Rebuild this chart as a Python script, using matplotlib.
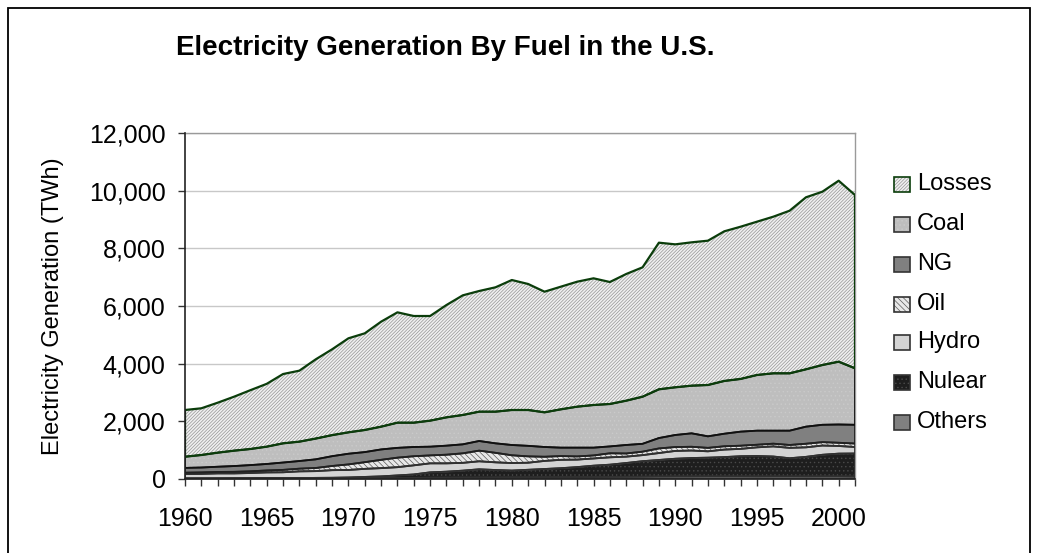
import matplotlib
matplotlib.use("Agg")
import matplotlib.pyplot as plt
from matplotlib.patches import Rectangle
from matplotlib.ticker import StrMethodFormatter
import numpy as np

plt.rcParams['font.family'] = ['Liberation Sans', 'DejaVu Sans']
plt.rcParams['hatch.linewidth'] = 0.5

# data (TWh)
years = np.arange(1960, 2002)
others = [15, 15, 16, 17, 18, 20, 22, 24, 26, 28,
          30, 32, 34, 36, 38, 45, 48, 50, 52, 55,
          58, 60, 62, 65, 68, 70, 72, 75, 78, 85,
          88, 88, 90, 90, 90, 88, 90, 90, 88, 90,
          90, 85]
nuclear = [1, 2, 2, 3, 3, 4, 6, 8, 13, 15,
           23, 40, 57, 88, 120, 186, 206, 240, 285, 257,
           235, 260, 285, 310, 345, 392, 425, 480, 540, 575,
           615, 640, 650, 670, 700, 710, 690, 630, 680, 750,
           790, 800]
hydro = [153, 160, 176, 174, 186, 204, 205, 233, 234, 263,
         260, 280, 286, 286, 316, 312, 289, 270, 277, 266,
         260, 245, 280, 290, 260, 250, 255, 220, 210, 240,
         270, 260, 220, 260, 255, 300, 350, 360, 330, 320,
         265, 225]
oil = [50, 51, 51, 55, 60, 68, 83, 93, 109, 145,
       193, 231, 288, 330, 316, 275, 300, 330, 370, 330,
       270, 220, 145, 130, 110, 105, 140, 110, 120, 160,
       135, 130, 120, 115, 110, 90, 95, 100, 125, 118,
       112, 120]
ng = [166, 170, 180, 200, 215, 225, 255, 265, 300, 340,
      370, 350, 360, 340, 320, 303, 313, 312, 334, 329,
      356, 365, 338, 292, 304, 270, 238, 295, 272, 360,
      418, 466, 400, 435, 487, 488, 451, 496, 592, 602,
      633, 650]
coal = [388, 434, 488, 533, 558, 600, 666, 672, 720, 730,
        742, 766, 790, 873, 843, 902, 982, 1018, 1017, 1098,
        1214, 1243, 1202, 1329, 1421, 1479, 1471, 1536, 1634, 1690,
        1654, 1652, 1780, 1830, 1828, 1931, 1989, 1989, 1989, 2073,
        2178, 1959]
losses = [1620, 1620, 1733, 1872, 2040, 2179, 2403, 2462, 2748, 2976,
          3261, 3353, 3641, 3827, 3700, 3630, 3896, 4150, 4185, 4313,
          4508, 4370, 4184, 4254, 4335, 4394, 4231, 4394, 4487, 5086,
          4958, 4972, 5005, 5190, 5280, 5317, 5432, 5640, 5966, 6010,
          6277, 6010]

labels = ['Others', 'Nulear', 'Hydro', 'Oil', 'NG', 'Coal', 'Losses']
series = [others, nuclear, hydro, oil, ng, coal, losses]
faces = ['#808080', '#1e1e1e', '#d4d4d4', '#e8e8e8', '#808080', '#bebebe', '#f0f0f0']
hatches = [None, '....', None, '\\\\\\\\\\\\', None, '....', '//////////']
hatch_cols = ['#808080', '#4a4a4a', '#d4d4d4', '#5a5a5a', '#808080', '#cacaca', '#959595']
borders = ['#303030', '#303030', '#303030', '#303030', '#202020', '#101010', '#0b3d0b']

W, H = 1039, 553
fig = plt.figure(figsize=(W / 100, H / 100), dpi=100)
ax = fig.add_axes([185 / W, 1 - 479 / H, (855 - 185) / W, (479 - 133) / H])

polys = ax.stackplot(years, *series, colors=faces, zorder=2)
for p, h, hc in zip(polys, hatches, hatch_cols):
    p.set_linewidth(0)
    p.set_edgecolor(hc)
    if h:
        p.set_hatch(h)

# outlines of each area, drawn in stacking order
tops = np.cumsum(np.array(series), axis=0)
bottom = np.zeros(len(years))
for top, bc in zip(tops, borders):
    lw = 1.6 if bc == '#0b3d0b' else 1.3
    ax.fill_between(years, bottom, top, facecolor='none', edgecolor=bc,
                    linewidth=lw, zorder=3)
    bottom = top

ax.set_xlim(1960, 2001)
ax.set_ylim(0, 12000)
ax.set_yticks(np.arange(0, 12001, 2000))
ax.yaxis.set_major_formatter(StrMethodFormatter('{x:,.0f}'))
ax.set_xticks(years)
ax.set_xticklabels([str(y) if y % 5 == 0 else '' for y in years])
ax.tick_params(axis='x', direction='out', length=5, width=1, pad=15,
               labelsize=18, color='#333333')
ax.tick_params(axis='y', direction='out', length=5, width=1, pad=9,
               labelsize=18, color='#333333')
ax.yaxis.grid(True, color='#c8c8c8', linewidth=1, zorder=0)
ax.set_axisbelow(True)
for s in ['left', 'bottom']:
    ax.spines[s].set_color('#222222')
    ax.spines[s].set_linewidth(1.2)
    ax.spines[s].set_zorder(4)
for s in ['top', 'right']:
    ax.spines[s].set_color('#9a9a9a')
    ax.spines[s].set_linewidth(1)

fig.text(176 / W, 1 - 48 / H, 'Electricity Generation By Fuel in the U.S.',
         ha='left', va='center', fontsize=20, fontweight='bold')
fig.text(53 / W, 1 - 306 / H, 'Electricity Generation (TWh)', rotation=90,
         ha='center', va='center', fontsize=17)

# legend, top to bottom
baselines = [190, 230, 270, 310, 348, 388, 428]
for i, base in enumerate(baselines):
    k = len(labels) - 1 - i
    x0, y0, w, h = 894, base + 2, 16, 15
    box = (x0 / W, 1 - y0 / H)
    fill = Rectangle(box, w / W, h / H, transform=fig.transFigure,
                     facecolor=faces[k], edgecolor=hatch_cols[k], linewidth=0,
                     hatch=hatches[k])
    edge = Rectangle(box, w / W, h / H, transform=fig.transFigure,
                     facecolor='none', edgecolor=borders[k] if k == 6 else '#333333',
                     linewidth=1.2)
    fig.add_artist(fill)
    fig.add_artist(edge)
    fig.text(917 / W, 1 - base / H, labels[k], ha='left', va='baseline',
             fontsize=17)

# chart area border
fig.add_artist(Rectangle((8 / W, -0.05), (1030 - 8) / W, 1.05 - 8 / H,
                         transform=fig.transFigure, facecolor='none',
                         edgecolor='black', linewidth=1.3))

fig.savefig('out.png', dpi=100)
